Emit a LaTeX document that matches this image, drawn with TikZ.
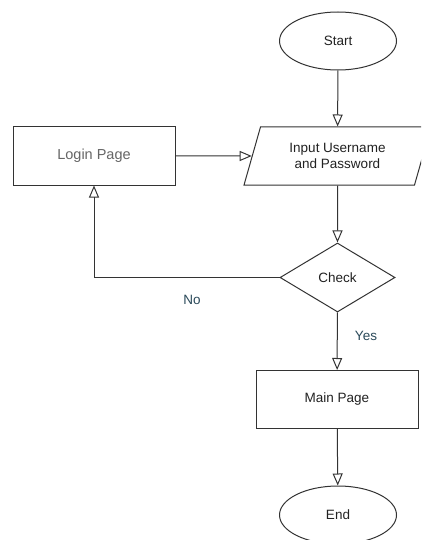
\documentclass[tikz,border=0pt]{standalone}
\usepackage{fontspec}
\setmainfont{Liberation Sans}
\usetikzlibrary{shapes.geometric,arrows.meta}
\definecolor{linec}{HTML}{333333}
\definecolor{textc}{HTML}{222222}
\definecolor{labc}{HTML}{2B4A5A}
\definecolor{grayt}{HTML}{666666}
\begin{document}
\begin{tikzpicture}[x=1pt,y=-1pt,
  every node/.style={font=\fontsize{13.5}{16}\selectfont, text=textc, align=center},
  base/.style={draw=linec, line width=1pt, inner sep=0pt},
  term/.style={base, ellipse, minimum width=117pt, minimum height=58pt},
  procbox/.style={base, rectangle, minimum width=162pt, minimum height=58pt},
  iobox/.style={base, trapezium, trapezium left angle=68, trapezium right angle=112,
     trapezium stretches=true, minimum width=187pt, minimum height=58pt},
  decision/.style={base, diamond, minimum width=115pt, minimum height=69pt},
  conn/.style={draw=linec, line width=1pt, -{Triangle[open, length=12pt, width=10pt]}},
  lab/.style={text=labc}
]
\useasboundingbox (0,0) rectangle (421,540);
\clip (0,0) rectangle (421,540);
\fill[white] (0,0) rectangle (421,540);
\node[term] (start) at (338,41) {Start};
\node[iobox] (input) at (337.5,156) {Input Username\\and Password};
\node[procbox, text=grayt, font=\fontsize{14.5}{17}\selectfont] (login) at (94,156) {Login Page};
\node[decision] (check) at (337.5,277.5) {Check};
\node[procbox] (main) at (337,399.5) {Main Page};
\node[term] (end) at (338,515) {End};
\node[lab] (no) at (192,300) {No};
\node[lab] (yes) at (366,336) {Yes};
\draw[conn] (start) -- (input);
\draw[conn] (login) -- (input);
\draw[conn] (input) -- (check);
\draw[conn] (check.west) -| (login.south);
\draw[conn] (check) -- (main);
\draw[conn] (main) -- (end);
\end{tikzpicture}
\end{document}
